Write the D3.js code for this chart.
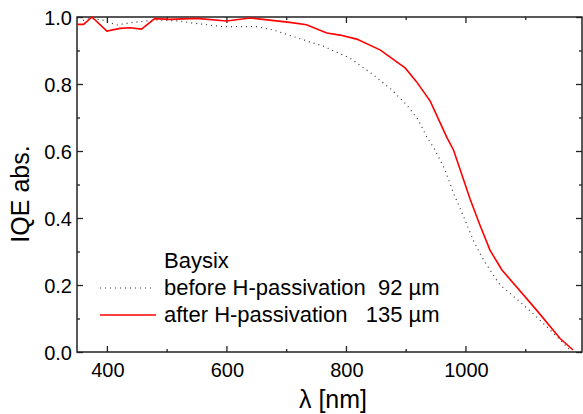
<!DOCTYPE html>
<html>
<head>
<meta charset="utf-8">
<script src="https://cdn.jsdelivr.net/npm/d3@7"></script>
<style>
  body { margin: 0; background: #fff; }
  text { font-family: "Liberation Sans", Arial, sans-serif; fill: #000; }
</style>
</head>
<body>
<svg id="chart" width="583" height="414"></svg>
<script>
const lambdaBefore = [360, 372, 393, 416, 439, 466, 483, 522, 539, 595, 651, 679, 706, 762, 807, 846, 877, 902, 921, 935, 949, 966, 980, 998, 1013, 1027, 1041, 1058, 1091, 1119, 1153, 1175]
const iqeBefore = [0.99, 0.996, 0.991, 0.976, 0.983, 0.988, 0.991, 0.988, 0.983, 0.971, 0.971, 0.961, 0.945, 0.913, 0.877, 0.827, 0.782, 0.737, 0.693, 0.643, 0.603, 0.543, 0.474, 0.40, 0.334, 0.285, 0.245, 0.2, 0.15, 0.105, 0.046, 0.006]

const lambdaAfter = [350, 361, 375, 400, 422, 439, 458, 480, 505, 550, 600, 640, 706, 734, 768, 790, 818, 857, 899, 918, 941, 969, 980, 1008, 1024, 1041, 1061, 1119, 1158, 1180]
const iqeAfter = [0.978, 0.978, 1.0, 0.958, 0.966, 0.968, 0.964, 0.995, 0.993, 0.996, 0.988, 0.997, 0.984, 0.977, 0.952, 0.946, 0.934, 0.902, 0.848, 0.807, 0.749, 0.64, 0.603, 0.455, 0.38, 0.304, 0.245, 0.125, 0.041, 0.006]

const xMajor = [400, 600, 800, 1000]
const xMinor = [500, 700, 900, 1100]
const yMajor = [0, 0.2, 0.4, 0.6, 0.8, 1.0]
const yMinor = [0.1, 0.3, 0.5, 0.7, 0.9]

const legendTitle = "Baysix"
const legendBefore = "before H-passivation\u00a0\u00a092 \u00b5m"
const legendAfter = "after H-passivation\u00a0\u00a0\u00a0135 \u00b5m"

const svg = d3.select("#chart")
const mLeft = 77, mRight = 582, mTop = 17, mBottom = 352

const x = d3.scaleLinear().domain([350, 1195]).range([mLeft, mRight])
const y = d3.scaleLinear().domain([0, 1.0]).range([mBottom, mTop])

const axisColor = "#222"

// inward ticks on all four sides
function tickSet(axisFn, scale, vals, len) {
  return axisFn(scale).tickValues(vals).tickSize(-len).tickFormat("")
}

svg.append("g").attr("transform", `translate(0,${mBottom})`)
  .call(tickSet(d3.axisBottom, x, xMajor, 6))
svg.append("g").attr("transform", `translate(0,${mBottom})`)
  .call(tickSet(d3.axisBottom, x, xMinor, 3))
svg.append("g").attr("transform", `translate(0,${mTop})`)
  .call(tickSet(d3.axisTop, x, xMajor, 6))
svg.append("g").attr("transform", `translate(0,${mTop})`)
  .call(tickSet(d3.axisTop, x, xMinor, 3))
svg.append("g").attr("transform", `translate(${mLeft},0)`)
  .call(tickSet(d3.axisLeft, y, yMajor, 6))
svg.append("g").attr("transform", `translate(${mLeft},0)`)
  .call(tickSet(d3.axisLeft, y, yMinor, 3))
svg.append("g").attr("transform", `translate(${mRight},0)`)
  .call(tickSet(d3.axisRight, y, yMajor, 6))
svg.append("g").attr("transform", `translate(${mRight},0)`)
  .call(tickSet(d3.axisRight, y, yMinor, 3))

svg.selectAll(".domain").remove()
svg.selectAll(".tick line").attr("stroke", axisColor).attr("stroke-width", 1.3)

svg.append("rect")
  .attr("x", mLeft).attr("y", mTop)
  .attr("width", mRight - mLeft).attr("height", mBottom - mTop)
  .attr("fill", "none").attr("stroke", axisColor).attr("stroke-width", 1.5)

// tick labels
svg.append("g").selectAll("text")
  .data(xMajor).enter().append("text")
  .attr("x", d => x(d) + 1).attr("y", 377)
  .attr("text-anchor", "middle").attr("font-size", 20)
  .text(d => d)

svg.append("g").selectAll("text")
  .data(yMajor).enter().append("text")
  .attr("x", 72).attr("y", d => y(d) + 8)
  .attr("text-anchor", "end").attr("font-size", 20)
  .text(d => d3.format(".1f")(d))

// axis titles
svg.append("text")
  .attr("x", 333).attr("y", 408)
  .attr("text-anchor", "middle").attr("font-size", 25)
  .text("\u03bb [nm]")

svg.append("text")
  .attr("transform", "translate(29,194) rotate(-90)")
  .attr("text-anchor", "middle").attr("font-size", 25)
  .text("IQE abs.")

// curves
const line = d3.line().x(d => x(d[0])).y(d => y(d[1]))

svg.append("path")
  .datum(d3.zip(lambdaBefore, iqeBefore))
  .attr("d", line)
  .attr("fill", "none").attr("stroke", "#333")
  .attr("stroke-width", 1.2).attr("stroke-dasharray", "1,4")

svg.append("path")
  .datum(d3.zip(lambdaAfter, iqeAfter))
  .attr("d", line)
  .attr("fill", "none").attr("stroke", "#ff0000")
  .attr("stroke-width", 1.6)

// legend
const legend = svg.append("g")
legend.append("text").attr("x", 164).attr("y", 268).attr("font-size", 22).text(legendTitle)
legend.append("text").attr("x", 164).attr("y", 295).attr("font-size", 22).text(legendBefore)
legend.append("text").attr("x", 164).attr("y", 322).attr("font-size", 22).text(legendAfter)

legend.append("line")
  .attr("x1", 100).attr("x2", 154).attr("y1", 288).attr("y2", 288)
  .attr("stroke", "#333").attr("stroke-width", 1.2).attr("stroke-dasharray", "1,4")
legend.append("line")
  .attr("x1", 100).attr("x2", 156).attr("y1", 315).attr("y2", 315)
  .attr("stroke", "#ff0000").attr("stroke-width", 1.6)
</script>
</body>
</html>
